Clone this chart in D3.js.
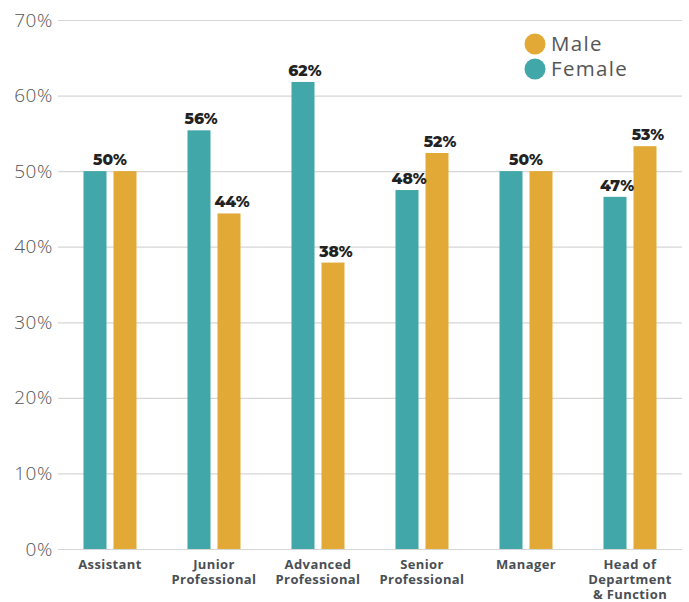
<!DOCTYPE html>
<html><head><meta charset="utf-8">
<script src="https://cdn.jsdelivr.net/npm/d3@7"></script>
<style>
html,body{margin:0;padding:0;background:#fff;}
svg{display:block;}
</style></head>
<body>
<svg id="chart" width="689" height="602"></svg>
<script>
const categories = [["Assistant"],["Junior","Professional"],["Advanced","Professional"],["Senior","Professional"],["Manager"],["Head of","Department","& Function"]];
const female = [50, 55.4, 61.8, 47.5, 50, 46.6];
const male = [50, 44.4, 37.9, 52.4, 50, 53.3];
const femaleLabels = ["50%","56%","62%","48%","50%","47%"];
const maleLabels = ["50%","44%","38%","52%","50%","53%"];
const yTicks = [0,10,20,30,40,50,60,70];
const series = ["Female","Male"];
const colors = {Female:"#41a7a8", Male:"#e3a936"};

const svg = d3.select("#chart");
const pLeft = 58, pRight = 682, pTop = 20, pBottom = 549;
const x0 = d3.scaleBand().domain(d3.range(categories.length)).range([pLeft, pRight]).padding(0);
const y = d3.scaleLinear().domain([0,70]).range([pBottom, pTop]);
const groupW = 53;
const x1 = d3.scaleBand().domain(series).range([0, groupW]).paddingInner(7/30);

// grid
const yAxis = d3.axisLeft(y).tickValues(yTicks).tickFormat(d => d + "%").tickSize(-(pRight-pLeft)).tickPadding(8);
const ga = svg.append("g").attr("transform", `translate(${pLeft},0)`).call(yAxis);
ga.select(".domain").remove();
ga.selectAll(".tick line").attr("stroke", "#d6d6d6").attr("stroke-width", 1.2);
ga.selectAll(".tick text").attr("fill", "#555").attr("font-family", "'Open Sans', Lato, sans-serif")
  .attr("font-weight", 300).attr("font-size", 19).attr("letter-spacing", 0.6).attr("x", -5);

const data = categories.map((c,i) => ({i, Female: female[i], Male: male[i], fl: femaleLabels[i], ml: maleLabels[i]}));
const groups = svg.append("g").selectAll("g").data(data).join("g")
  .attr("transform", d => `translate(${x0(d.i) + x0.bandwidth()/2 - groupW/2},0)`);

groups.selectAll("rect").data(d => series.map(s => ({s, v: d[s]}))).join("rect")
  .attr("x", d => x1(d.s)).attr("width", x1.bandwidth())
  .attr("y", d => y(d.v)).attr("height", d => pBottom - y(d.v))
  .attr("fill", d => colors[d.s]);

const lblFont = "Montserrat, 'Open Sans', Lato, sans-serif";
groups.each(function(d){
  const g = d3.select(this);
  if (d.fl === d.ml && d.Female === d.Male) {
    g.append("text").attr("x", groupW/2).attr("y", y(d.Female) - 6).attr("text-anchor","middle")
      .attr("font-family", lblFont).attr("font-weight", 800).attr("font-size", 15.5).attr("fill","#222").text(d.fl);
  } else {
    g.append("text").attr("x", x1("Female") + x1.bandwidth()/2 + 2).attr("y", y(d.Female) - 6).attr("text-anchor","middle")
      .attr("font-family", lblFont).attr("font-weight", 800).attr("font-size", 15.5).attr("fill","#222").text(d.fl);
    g.append("text").attr("x", x1("Male") + x1.bandwidth()/2 + 3).attr("y", y(d.Male) - 6).attr("text-anchor","middle")
      .attr("font-family", lblFont).attr("font-weight", 800).attr("font-size", 15.5).attr("fill","#222").text(d.ml);
  }
});

// x category labels
const xl = svg.append("g");
categories.forEach((lines, i) => {
  lines.forEach((ln, k) => {
    xl.append("text").attr("text-anchor","middle")
      .attr("font-family", "'Open Sans', Lato, sans-serif").attr("font-weight", 700).attr("font-size", 13)
      .attr("letter-spacing", 0.4).attr("fill","#4a4f55")
      .attr("x", x0(i) + x0.bandwidth()/2).attr("y", 569 + k*15).text(ln);
  });
});

// legend
const legend = svg.append("g");
const legItems = [["Male", 44], ["Female", 69]];
legItems.forEach(([s, yy]) => {
  legend.append("circle").attr("cx", 535).attr("cy", yy).attr("r", 10.5).attr("fill", colors[s]);
  legend.append("text").attr("x", 551).attr("y", yy + 7).attr("font-family", "'Open Sans', Lato, sans-serif")
    .attr("font-weight", 400).attr("font-size", 20.5).attr("letter-spacing", 1.3).attr("fill", "#555").text(s);
});
</script>
</body></html>
